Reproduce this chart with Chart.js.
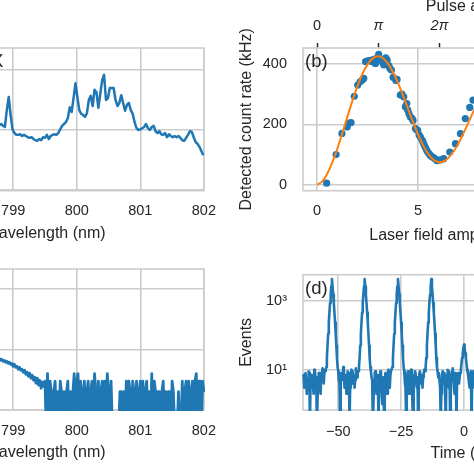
<!DOCTYPE html>
<html>
<head>
<meta charset="utf-8">
<script src="https://cdn.jsdelivr.net/npm/chart.js@4.4.0/dist/chart.umd.min.js"></script>
<style>
  html, body { margin: 0; padding: 0; background: #fff; }
  body { position: relative; width: 474px; height: 474px; overflow: hidden; }
  canvas { position: absolute; }
</style>
</head>
<body>
<canvas id="chartA" width="428" height="250" style="left:-200px;top:0px"></canvas>
<canvas id="chartC" width="428" height="224" style="left:-200px;top:250px"></canvas>
<canvas id="chartB" width="430" height="260" style="left:230px;top:-10px"></canvas>
<canvas id="chartD" width="430" height="224" style="left:230px;top:250px"></canvas>
<script>
// (a) emission spectrum, evenly sampled from specAStart (nm)
const specAStart = 798.75, specAStep = 0.03;
const specA = [
  1.09,1.07,1.09,1.06,1.04,1.32,1.54,1.24,1.00,0.94,
  0.91,0.91,0.92,0.89,0.91,0.89,0.87,0.86,0.87,0.84,
  0.82,0.81,0.84,0.82,0.87,0.86,0.91,0.84,0.89,0.91,
  0.92,0.91,0.94,1.00,1.06,1.09,1.12,1.19,1.37,1.29,
  1.52,1.77,1.54,1.32,1.26,1.24,1.21,1.27,1.49,1.56,
  1.39,1.66,1.62,1.36,1.59,1.82,1.91,1.49,1.52,1.69,
  1.69,1.69,1.49,1.39,1.44,1.57,1.44,1.31,1.41,1.44,
  1.32,1.26,1.12,1.02,0.99,1.00,1.02,1.04,1.09,1.02,
  0.99,1.04,1.06,0.97,0.94,0.97,0.92,0.91,0.94,0.87,
  0.92,0.89,0.87,0.89,0.87,0.89,0.86,0.82,0.81,0.86,
  0.91,0.97,0.96,0.87,0.79,0.76,0.71,0.64,0.57
];

// (c) filtered spectrum (counts, log axis)
const specCStart = 798.76, specCStep = 0.02;
const specC = [
  6.86,7.12,6.60,6.86,6.36,6.60,6.12,6.36,5.89,6.12,
  5.68,5.89,5.26,5.68,5.07,5.26,4.70,5.07,4.53,4.70,
  4.20,4.53,3.89,4.20,3.61,4.04,3.35,3.75,3.10,3.48,
  2.77,3.35,2.57,3.10,2.29,2.88,2.47,
  3,0,4,0,3,2,
  0,2,3,0,2,0,3,2,0,2,0,2,3,0,2,0,2,
  4,0,3,4,
  0,3,2,0,3,0,2,3,0,2,3,0,4,2,
  0,3,0,2,3,0,3,0,4,2,0,3,0,
  0,0,0,0,0,
  2,2,0,2,0,
  3,0,3,2,0,3,2,0,3,0,2,3,0,3,0,2,3,0,2,
  0,4,0,3,
  2,0,2,2,0,2,3,0,2,0,2,2,0,3,2,0,
  0,0,2,0,0,
  3,0,2,3,0,3,0,2,3,0,3,4,0,3,3,0,3,2
];

// (b) Rabi oscillation: measured points and fit
const rabiAmp = [0.47,0.94,1.23,1.49,1.60,1.68,1.84,2.01,2.13,2.23,2.31,2.40,2.50,2.62,2.72,2.80,2.89,2.97,3.05,3.10,
  3.17,3.25,3.30,3.40,3.47,3.55,3.60,3.68,3.76,3.90,3.96,4.12,4.20,4.29,4.37,4.44,4.49,4.55,4.62,4.70,
  4.75,4.87,4.93,4.98,5.05,5.12,5.20,5.25,5.30,5.36,5.42,5.48,5.55,5.61,5.70,5.78,5.86,5.94,6.10,6.27,
  6.57,6.85,7.10,7.34,7.56,7.72];
const rabiRate = [5,100,170,191,204,206,293,330,341,347,352,408,410,412,408,415,402,420,432,418,
  413,405,397,420,413,395,386,380,356,345,349,297,300,291,258,269,247,235,224,220,
  213,186,182,180,165,158,148,141,132,124,115,108,102,97,92,89,85,80,82,86,
  108,136,169,219,256,280];
const fitStart = 0, fitStep = 0.25;
const fitRate = [0,11.1,36.2,73.1,119.2,171.1,225.4,278.6,327.1,368.4,398.9,418.6,425.3,419.8,402.1,374.3,
  338.5,296.4,251.7,207.4,166.1,130.2,102.2,83.5,74.8,76.9,88.7,109.5,137.5,170.7,207.1,243.9,
  278.9,309.8,335.0,352.5,362.1];

// (d) correlation histogram, 0.25 ns bins
const histStart = -64, histStep = 0.25;
const histEvents = [
  6,7,3,3,8,5,2,4,5,9,8,0,4,4,7,6,3,2,10,9,5,6,0,1,6,8,8,3,2,7,6,11,9,4,8,10,
  9,12,22,50,110,230,450,850,1500,2600,4200,2600,1500,850,450,230,110,50,22,12,9,
  5,4,0,7,8,6,5,12,10,3,4,7,2,2,9,8,6,0,3,5,10,9,4,6,7,3,5,11,8,6,9,
  9,12,22,50,110,230,450,850,1500,2600,4200,2600,1500,850,450,230,110,50,22,12,9,
  6,5,0,1,4,8,9,3,2,6,7,0,5,4,9,8,2,1,6,4,0,3,8,7,5,2,9,10,4,3,7,9,
  9,12,22,50,110,230,450,850,1500,2600,4200,2600,1500,850,450,230,110,50,22,12,9,
  4,3,0,6,7,9,5,2,3,8,10,6,1,0,5,7,9,8,4,3,6,0,2,8,9,5,4,7,3,6,8,10,
  9,12,22,50,110,230,450,850,1500,2600,4200,2600,1500,850,450,230,110,50,22,12,9,
  6,8,5,3,0,2,7,9,6,4,8,2,0,6,7,10,9,3,5,0,4,7,9,11,6,3,2,8,7,0,5,6,8,4,6,
  8,10,15,22,30,42,53,42,30,22,15,10,8,
  6,4,3,8,9,0,5,7,9,4,3,8,6,5
];

// axis ticks
const wlTicks = [798, 799, 800, 801, 802];
const intTicks = [0, 1, 2];
const countTicks = [1, 10, 100];
const ampTicks = [0, 5, 10, 15];
const rateTicks = [0, 200, 400];
const pulseTicks = [0, 1, 2, 3, 4, 5];
const pulseLabels = ['0', 'π', '2π', '3π', '4π', '5π'];
const timeTicks = [-50, -25, 0, 25, 50];
const eventTicks = [10, 1000];
const eventLabels = ['10¹', '10³'];
const ampPerPi = 3.03;

const blue = '#1f77b4';
const orange = '#ff7f0e';
Chart.defaults.font.family = "'Liberation Sans', Arial, Helvetica, sans-serif";
Chart.defaults.color = '#262626';

const grid = { color: '#cccccc', lineWidth: 1.6, drawTicks: false };
const noBorder = { display: false };
const tickFont = { size: 14.5 };
const titleFont = { size: 16 };

const toXY = (start, step, ys) => ys.map((y, i) => ({ x: +(start + i * step).toFixed(3), y: y }));
// zero counts cannot sit on a log axis: send them below the axis, the plot area clips them (as matplotlib does)
const clipZeros = (points, floor) => points.map(p => ({ x: p.x, y: p.y > 0 ? p.y : floor }));
const setTicks = values => axis => { axis.ticks = values.map(v => ({ value: v })); };
const fixWidth = w => axis => { axis.width = w; };
const fixHeight = h => axis => { axis.height = h; };
const minus = v => String(v).replace('-', '\u2212');

// light grey box round the plot area, like the seaborn style
const framePlugin = {
  id: 'frame',
  beforeDatasetsDraw(chart) {
    const { ctx, chartArea: a } = chart;
    ctx.save();
    ctx.strokeStyle = '#cccccc';
    ctx.lineWidth = 1.6;
    ctx.strokeRect(a.left, a.top, a.right - a.left, a.bottom - a.top);
    ctx.restore();
  }
};

const panelLabel = {
  id: 'panelLabel',
  afterDatasetsDraw(chart, args, opts) {
    if (!opts || !opts.text) return;
    const { ctx, chartArea } = chart;
    ctx.save();
    ctx.font = "18.5px 'Liberation Sans', Arial, sans-serif";
    ctx.fillStyle = '#262626';
    ctx.textBaseline = 'middle';
    let x = chartArea.left + 2;
    ctx.textAlign = 'left';
    if (opts.xValue !== undefined) {
      x = chart.scales.x.getPixelForValue(opts.xValue);
      ctx.textAlign = 'center';
    }
    ctx.fillText(opts.text, x, chartArea.top + 14);
    ctx.restore();
  }
};

function baseOptions(pad, label) {
  return {
    responsive: false,
    animation: false,
    layout: { padding: pad },
    plugins: { legend: { display: false }, tooltip: { enabled: false }, panelLabel: label },
    elements: {
      point: { radius: 0 },
      line: { borderJoinStyle: 'round', borderWidth: 2.5, borderColor: blue, tension: 0 }
    }
  };
}

function lineSet(points, width) {
  return { data: points, showLine: true, borderColor: blue, borderWidth: width || 2.5, pointRadius: 0, clip: 1 };
}

// (a)
const optA = baseOptions({ top: 48, right: 20, left: 0, bottom: 0 }, { text: 'X', xValue: 798.75 });
optA.scales = {
  x: { type: 'linear', min: 797, max: 802, grid, border: noBorder,
       afterBuildTicks: setTicks(wlTicks),
       ticks: { font: tickFont, padding: 12, maxRotation: 0, autoSkip: false },
       title: { display: true, text: 'Wavelength (nm)', font: titleFont, padding: { top: 0, bottom: 6.4 } },
       afterFit: fixHeight(59.3) },
  y: { type: 'linear', min: -0.02, max: 2.355, grid, border: noBorder,
       afterBuildTicks: setTicks(intTicks), ticks: { display: false }, afterFit: fixWidth(86) }
};
new Chart(document.getElementById('chartA'), {
  type: 'scatter',
  data: { datasets: [lineSet(toXY(specAStart, specAStep, specA))] },
  options: optA,
  plugins: [framePlugin, panelLabel]
});

// (c)
const optC = baseOptions({ top: 19, right: 20, left: 0, bottom: 0 }, {});
optC.scales = {
  x: { type: 'linear', min: 797, max: 802, grid, border: noBorder,
       afterBuildTicks: setTicks(wlTicks),
       ticks: { font: tickFont, padding: 12, maxRotation: 0, autoSkip: false },
       title: { display: true, text: 'Wavelength (nm)', font: titleFont, padding: { top: 0, bottom: 11.4 } },
       afterFit: fixHeight(64) },
  y: { type: 'logarithmic', min: 1, max: 213, grid, border: noBorder,
       afterBuildTicks: setTicks(countTicks), ticks: { display: false }, afterFit: fixWidth(86) }
};
new Chart(document.getElementById('chartC'), {
  type: 'scatter',
  data: { datasets: [lineSet(clipZeros(toXY(specCStart, specCStep, specC), 0.5), 2.8)] },
  options: optC,
  plugins: [framePlugin, panelLabel]
});

// (b)
const ampRange = [-0.7, 15.25];
const optB = baseOptions({ top: 0, right: 35, left: 0, bottom: 0 }, { text: '(b)' });
optB.scales = {
  x: { type: 'linear', min: ampRange[0], max: ampRange[1], grid, border: noBorder,
       afterBuildTicks: setTicks(ampTicks),
       ticks: { font: tickFont, padding: 12, maxRotation: 0, autoSkip: false },
       title: { display: true, text: 'Laser field amplitude (a.u.)', font: titleFont, padding: { top: 0, bottom: 4.4 } },
       afterFit: fixHeight(59.3) },
  x2: { type: 'linear', position: 'top', axis: 'x',
        min: ampRange[0] / ampPerPi, max: ampRange[1] / ampPerPi,
        grid: { drawOnChartArea: false, drawTicks: true, tickLength: 5, tickColor: '#262626', tickWidth: 1.5 },
        border: noBorder,
        afterBuildTicks: setTicks(pulseTicks),
        ticks: { callback: (v, i) => pulseLabels[i], padding: 8, maxRotation: 0, autoSkip: false,
                 font: ctx => ({ size: 14.5, style: ctx.tick && ctx.tick.value !== 0 ? 'italic' : 'normal' }) },
        title: { display: true, text: 'Pulse area', font: titleFont, padding: { top: 7.4, bottom: 0 } },
        afterFit: fixHeight(58) },
  y: { type: 'linear', min: -20, max: 453, grid, border: noBorder,
       afterBuildTicks: setTicks(rateTicks),
       ticks: { font: tickFont, padding: 16 },
       title: { display: true, text: 'Detected count rate (kHz)', font: titleFont, padding: { top: 7.4, bottom: 0 } },
       afterFit: fixWidth(73) }
};
new Chart(document.getElementById('chartB'), {
  type: 'scatter',
  data: {
    datasets: [
      { data: toXY(fitStart, fitStep, fitRate), showLine: true, borderColor: orange, borderWidth: 2,
        pointRadius: 0, tension: 0.4 },
      { data: rabiAmp.map((a, i) => ({ x: a, y: rabiRate[i] })), showLine: false,
        pointRadius: 3.6, backgroundColor: blue, borderWidth: 0 }
    ]
  },
  options: optB,
  plugins: [framePlugin, panelLabel]
});

// (d)
const optD = baseOptions({ top: 19, right: 35, left: 0, bottom: 0 }, { text: '(d)' });
optD.scales = {
  x: { type: 'linear', min: -64, max: 64, grid, border: noBorder,
       afterBuildTicks: setTicks(timeTicks),
       ticks: { font: tickFont, padding: 13, maxRotation: 0, autoSkip: false, callback: v => minus(v) },
       title: { display: true, text: 'Time (ns)', font: titleFont, padding: { top: 0, bottom: 10.4 } },
       afterFit: fixHeight(64) },
  y: { type: 'logarithmic', min: 0.68, max: 5620, grid, border: noBorder,
       afterBuildTicks: setTicks(eventTicks),
       ticks: { font: tickFont, padding: 16, callback: (v, i) => eventLabels[i] },
       title: { display: true, text: 'Events', font: titleFont, padding: { top: 7.4, bottom: 0 } },
       afterFit: fixWidth(73) }
};
new Chart(document.getElementById('chartD'), {
  type: 'scatter',
  data: { datasets: [lineSet(clipZeros(toXY(histStart, histStep, histEvents), 0.3), 2.6)] },
  options: optD,
  plugins: [framePlugin, panelLabel]
});
</script>
</body>
</html>
